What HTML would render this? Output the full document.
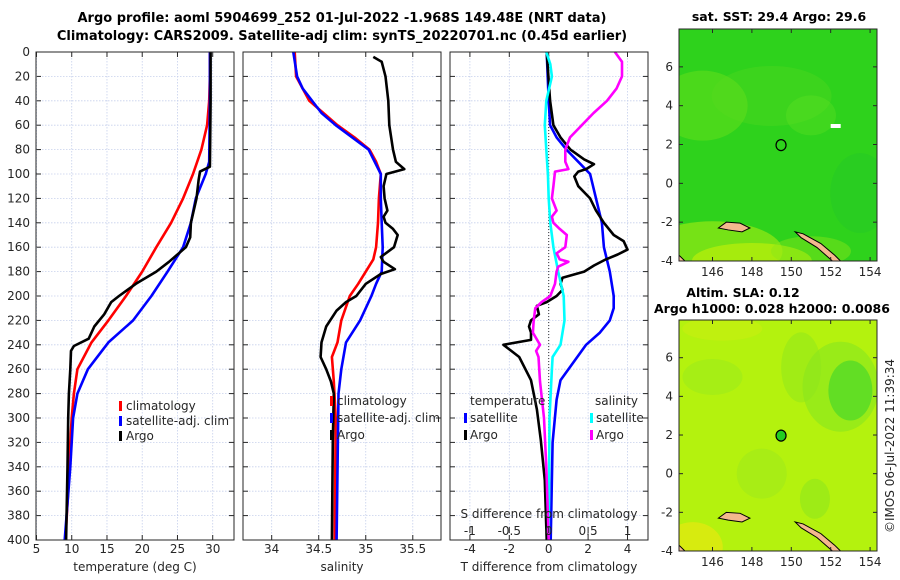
<!DOCTYPE html>
<html><head><meta charset="utf-8">
<style>
html,body{margin:0;padding:0;background:#fff;}
svg{display:block;font-family:"DejaVu Sans","Liberation Sans",sans-serif;}
</style></head>
<body>
<svg id="chart" width="900" height="580" viewBox="0 0 900 580" xmlns="http://www.w3.org/2000/svg"></svg>
<script>
// ---------- data ----------
const tClimDepth = [0,20,40,60,80,100,120,140,160,180,200,220,238,260,280,300,320,360,400];
const tClimVal   = [29.6,29.6,29.5,29.2,28.4,27.2,25.8,24.1,22.0,20.0,17.7,15.2,12.8,10.8,10.3,10.0,9.8,9.5,9.1];
const tSatDepth  = [0,40,90,100,120,140,160,180,200,220,238,260,280,300,340,400];
const tSatVal    = [29.6,29.6,29.5,29.0,27.6,26.9,25.8,23.6,21.3,18.7,15.2,12.3,10.8,10.2,9.8,9.0];
const tArgoDepth = [0,40,94,98,105,120,140,152,160,172,180,190,200,205,215,225,235,241,245,260,280,300,340,400];
const tArgoVal   = [29.7,29.7,29.6,28.2,28.0,27.7,26.9,26.8,26.2,23.8,22.0,19.1,16.7,15.6,14.6,13.2,12.4,10.3,9.9,9.8,9.6,9.5,9.4,9.2];

const sClimDepth = [0,20,30,40,50,60,70,80,90,100,120,140,160,170,180,190,200,220,238,250,270,300,400];
const sClimVal   = [34.245,34.26,34.33,34.40,34.55,34.70,34.88,35.04,35.11,35.16,35.14,35.13,35.11,35.08,35.0,34.92,34.83,34.74,34.70,34.64,34.66,34.68,34.67];
const sSatDepth  = [0,20,30,50,60,80,100,120,140,160,180,190,200,220,238,260,280,400];
const sSatVal    = [34.23,34.27,34.33,34.53,34.68,35.03,35.16,35.16,35.17,35.18,35.17,35.11,35.06,34.94,34.79,34.74,34.71,34.69];
const sArgoDepth = [4,8,20,40,60,80,90,96,100,110,120,130,135,140,145,150,160,168,172,178,182,190,200,205,212,225,238,250,260,270,280,320,400];
const sArgoVal   = [35.08,35.17,35.21,35.24,35.25,35.29,35.32,35.41,35.22,35.19,35.20,35.23,35.19,35.21,35.29,35.34,35.30,35.16,35.19,35.31,35.16,35.0,34.90,34.79,34.69,34.58,34.53,34.52,34.58,34.63,34.66,34.65,34.64];

const dTSatDepth  = [0,40,60,70,80,90,100,120,140,160,180,200,210,220,230,240,269,285,320,400];
const dTSatVal    = [-0.1,0.0,0.07,0.4,0.9,1.5,2.1,2.4,2.7,2.8,3.1,3.3,3.3,3.1,2.6,1.9,0.6,0.4,0.2,0.1];
const dTArgoDepth = [0,40,60,70,80,88,92,96,98,102,110,120,130,140,150,155,162,166,170,175,180,185,190,195,200,205,208,215,220,225,230,236,240,245,250,269,293,318,351,400];
const dTArgoVal   = [-0.1,0.07,0.24,0.6,1.1,1.8,2.3,1.9,1.5,1.3,1.5,2.1,2.4,2.8,3.3,3.8,4.0,3.5,2.9,2.3,1.8,0.7,0.6,0.7,0.4,-0.1,-0.6,-0.5,-0.9,-1.0,-0.9,-0.9,-2.3,-1.9,-1.5,-0.9,-0.6,-0.4,-0.2,-0.1];
const dSSatDepth  = [0,10,20,40,60,80,100,120,140,160,180,200,220,240,250,260,300,400];
const dSSatVal    = [-0.03,0.02,0.04,-0.03,-0.05,-0.03,-0.01,0.0,0.02,0.06,0.12,0.19,0.20,0.15,0.05,0.04,0.01,0.0];
const dSArgoDepth = [0,8,20,30,40,50,60,70,80,90,96,98,110,120,130,135,140,145,150,160,165,170,172,176,180,190,200,205,210,220,230,240,245,250,270,300,340,400];
const dSArgoVal   = [0.84,0.93,0.93,0.86,0.74,0.57,0.42,0.27,0.21,0.21,0.25,0.08,0.06,0.04,0.10,0.04,0.06,0.14,0.23,0.21,0.10,0.14,0.25,0.12,0.10,0.08,0.02,-0.09,-0.17,-0.19,-0.2,-0.11,-0.16,-0.13,-0.11,-0.06,-0.03,0.0];

const depthTicks = [0,20,40,60,80,100,120,140,160,180,200,220,240,260,280,300,320,340,360,380,400];
const tTicks = [5,10,15,20,25,30];
const sTicks = [34,34.5,35,35.5];
const dTTicks = [-4,-2,0,2,4];
const dSTicks = [-1,-0.5,0,0.5,1];
const dSTickLabels = ["-1","-0.5","0","0.5","1"];
const lonTicks = [146,148,150,152,154];
const latTicks = [-4,-2,0,2,4,6];
const argoLon = [149.48];
const argoLat = [1.97];

// ---------- helpers ----------
const NS = "http://www.w3.org/2000/svg";
const svg = document.getElementById('chart');
function mk(tag, attrs, parent){
  const e = document.createElementNS(NS, tag);
  for (const k in attrs) e.setAttribute(k, attrs[k]);
  (parent||svg).appendChild(e);
  return e;
}
const Y0 = 52, Y1 = 540;
function yScale(d){ return Y0 + d/400*(Y1-Y0); }
const panels = [
  {name:'temperature', x0:36, x1:234, min:4.93, max:33.02},
  {name:'salinity', x0:243, x1:441, min:33.695, max:35.8},
  {name:'difference', x0:450, x1:648, min:-5.01, max:5.04}
];
function xScale(p, v){ return p.x0 + (v-p.min)/(p.max-p.min)*(p.x1-p.x0); }
function xScaleS(v){ const p = panels[2]; return xScale(p, v*4); }

function drawPanel(p, ticks, labels){
  const g = mk('g', {});
  
  
  depthTicks.forEach(d=>{
    const y = yScale(d);
    const gl = mk('line', {x1:p.x0, x2:p.x1, y1:y, y2:y, stroke:'#c6d0ec', 'stroke-width':0.8, 'stroke-dasharray':'1.5,1.5'}, g);
    
    
    const t1 = mk('line', {x1:p.x0, x2:p.x0+5, y1:y, y2:y, stroke:'#262626', 'stroke-width':1}, g);
    
    
    const t2 = mk('line', {x1:p.x1-5, x2:p.x1, y1:y, y2:y, stroke:'#262626', 'stroke-width':1}, g);
    
    
  });
  ticks.forEach((v,i)=>{
    const x = xScale(p, v);
    const gl = mk('line', {x1:x, x2:x, y1:Y0, y2:Y1, stroke:'#c6d0ec', 'stroke-width':0.8, 'stroke-dasharray':'1.5,1.5'}, g);
    
    
    const tk = mk('line', {x1:x, x2:x, y1:Y1-5, y2:Y1, stroke:'#262626', 'stroke-width':1}, g);
    
    
    const tk2 = mk('line', {x1:x, x2:x, y1:Y0, y2:Y0+5, stroke:'#262626', 'stroke-width':1}, g);
    
    
    const tl = mk('text', {x:x, y:553, 'font-size':12, fill:'#262626', 'text-anchor':'middle'}, g);
    
    
    tl.textContent = labels ? labels[i] : String(v);
  });
  return g;
}
function series(p, depths, vals, color, name, sx){
  const pts = depths.map((d,i)=> (sx ? sx(vals[i]) : xScale(p, vals[i])).toFixed(1) + ',' + yScale(d).toFixed(1)).join(' ');
  const pl = mk('polyline', {points:pts, fill:'none', stroke:color, 'stroke-width':2.6, 'stroke-linejoin':'round'});
  
  
  return pl;
}
function frame(p){
  const r = mk('rect', {x:p.x0, y:Y0, width:p.x1-p.x0, height:Y1-Y0, fill:'none', stroke:'#262626', 'stroke-width':1});
  
  
}
function txt(x,y,s,opts,name){
  const a = Object.assign({x:x, y:y, 'font-size':12, fill:'#262626'}, opts||{});
  const t = mk('text', a);
  
  
  t.textContent = s;
  return t;
}
function legendMark(x,y,color){
  const m = mk('rect', {x:x, y:y-9, width:3, height:10, fill:color});
  
  
}

// ---------- titles ----------
txt(342,22,'Argo profile: aoml 5904699_252 01-Jul-2022 -1.968S 149.48E (NRT data)',{'font-size':13,'font-weight':'bold','text-anchor':'middle',fill:'#000'},'figure-title-line1');
txt(342,40,'Climatology: CARS2009. Satellite-adj clim: synTS_20220701.nc (0.45d earlier)',{'font-size':13,'font-weight':'bold','text-anchor':'middle',fill:'#000'},'figure-title-line2');

// ---------- panel 1 ----------
const P1 = panels[0], P2 = panels[1], P3 = panels[2];
drawPanel(P1, tTicks);
depthTicks.forEach(d=>{ txt(30, yScale(d)+4, String(d), {'text-anchor':'end'}, 'y-tick-label'); });
series(P1, tClimDepth, tClimVal, '#ff0000', 'temperature-climatology-line');
series(P1, tSatDepth, tSatVal, '#0000ff', 'temperature-satellite-line');
series(P1, tArgoDepth, tArgoVal, '#000000', 'temperature-argo-line');
frame(P1);
txt(135,571,'temperature (deg C)',{'text-anchor':'middle'},'x-axis-title-temperature');
legendMark(119,410,'#ff0000'); txt(126,410,'climatology',{},'legend-entry-climatology');
legendMark(119,425,'#0000ff'); txt(126,425,'satellite-adj. clim',{},'legend-entry-satellite');
legendMark(119,440,'#000000'); txt(126,440,'Argo',{},'legend-entry-argo');

// ---------- panel 2 ----------
drawPanel(P2, sTicks);
series(P2, sClimDepth, sClimVal, '#ff0000', 'salinity-climatology-line');
series(P2, sSatDepth, sSatVal, '#0000ff', 'salinity-satellite-line');
series(P2, sArgoDepth, sArgoVal, '#000000', 'salinity-argo-line');
frame(P2);
txt(342,571,'salinity',{'text-anchor':'middle'},'x-axis-title-salinity');
legendMark(330,405,'#ff0000'); txt(337,405,'climatology',{},'legend-entry-climatology');
legendMark(330,422,'#0000ff'); txt(337,422,'satellite-adj. clim',{},'legend-entry-satellite');
legendMark(330,439,'#000000'); txt(337,439,'Argo',{},'legend-entry-argo');

// ---------- panel 3 ----------
drawPanel(P3, dTTicks);
const zl = mk('line', {x1:xScale(P3,0), x2:xScale(P3,0), y1:Y0, y2:Y1, stroke:'#333', 'stroke-width':1, 'stroke-dasharray':'1,2'});


series(P3, dTSatDepth, dTSatVal, '#0000ff', 'dT-satellite-line');
series(P3, dTArgoDepth, dTArgoVal, '#000000', 'dT-argo-line');
series(P3, dSSatDepth, dSSatVal, '#00ffff', 'dS-satellite-line', xScaleS);
series(P3, dSArgoDepth, dSArgoVal, '#ff00ff', 'dS-argo-line', xScaleS);
frame(P3);
dSTicks.forEach((v,i)=>{
  const x = xScaleS(v);
  const tk = mk('line', {x1:x, x2:x, y1:527, y2:533, stroke:'#262626', 'stroke-width':1});
  
  
  txt(x, 535, dSTickLabels[i], {'text-anchor':'middle'}, 's-diff-tick-label');
});
txt(549,518,'S difference from climatology',{'text-anchor':'middle'},'s-diff-axis-title');
txt(549,571,'T difference from climatology',{'text-anchor':'middle'},'x-axis-title-t-diff');
txt(470,405,'temperature',{},'legend-title-temperature');
legendMark(464,422,'#0000ff'); txt(470,422,'satellite',{},'legend-entry-t-satellite');
legendMark(464,439,'#000000'); txt(470,439,'Argo',{},'legend-entry-t-argo');
txt(595,405,'salinity',{},'legend-title-salinity');
legendMark(590,422,'#00ffff'); txt(596,422,'satellite',{},'legend-entry-s-satellite');
legendMark(590,439,'#ff00ff'); txt(596,439,'Argo',{},'legend-entry-s-argo');

// ---------- maps ----------
const MX0 = 679, MX1 = 877;
function lonX(l){ return MX0 + (l-144.3)*19.7; }
function drawMap(name, top, bottom, latTopVal, base, blobs, dotFill){
  const sc = (bottom-top)/(latTopVal+4);
  const latY = l => top + (latTopVal-l)*sc;
  const g = mk('g', {});
  
  
  const clipId = name + '-clip';
  const cp = mk('clipPath', {id:clipId}, g);
  mk('rect', {x:MX0, y:top, width:MX1-MX0, height:bottom-top}, cp);
  const inner = mk('g', {'clip-path':'url(#'+clipId+')'}, g);
  mk('rect', {x:MX0, y:top, width:MX1-MX0, height:bottom-top, fill:base}, inner);
  blobs.forEach(b=>{
    const e = mk('ellipse', {cx:lonX(b[0]), cy:latY(b[1]), rx:b[2], ry:b[3], fill:b[4], opacity:b[5]}, inner);
    
    
  });
  const isl1 = mk('path', {d:`M${lonX(146.3)},${latY(-2.3)} L${lonX(146.7)},${latY(-2.0)} L${lonX(147.4)},${latY(-2.05)} L${lonX(147.9)},${latY(-2.3)} L${lonX(147.5)},${latY(-2.5)} L${lonX(146.8)},${latY(-2.4)} Z`, fill:'#f4b88e', stroke:'#000', 'stroke-width':1}, inner);
  
  
  const isl2 = mk('path', {d:`M${lonX(150.2)},${latY(-2.5)} L${lonX(150.6)},${latY(-2.6)} L${lonX(151.5)},${latY(-3.1)} L${lonX(152.2)},${latY(-3.7)} L${lonX(152.6)},${latY(-4.1)} L${lonX(152.2)},${latY(-4.1)} L${lonX(151.3)},${latY(-3.3)} L${lonX(150.5)},${latY(-2.8)} Z`, fill:'#f4b88e', stroke:'#000', 'stroke-width':1}, inner);
  
  
  const isl3 = mk('path', {d:`M${lonX(144.3)},${latY(-3.7)} L${lonX(144.7)},${latY(-4.1)} L${lonX(144.3)},${latY(-4.1)} Z`, fill:'#f4b88e', stroke:'#000', 'stroke-width':1}, inner);
  
  
  argoLon.forEach((lo,i)=>{
    const c = mk('ellipse', {cx:lonX(lo), cy:latY(argoLat[i]), rx:5, ry:5.5, fill:dotFill, stroke:'#000', 'stroke-width':1.2}, g);
    
    
  });
  const fr = mk('rect', {x:MX0, y:top, width:MX1-MX0, height:bottom-top, fill:'none', stroke:'#262626', 'stroke-width':1}, g);
  
  
  lonTicks.forEach(l=>{
    const x = lonX(l);
    mk('line', {x1:x, x2:x, y1:bottom-4, y2:bottom, stroke:'#262626'}, g);
    mk('line', {x1:x, x2:x, y1:top, y2:top+4, stroke:'#262626'}, g);
    txt(x, bottom+15, String(l), {'text-anchor':'middle'}, 'map-lon-tick-label');
  });
  latTicks.forEach(l=>{
    const y = latY(l);
    mk('line', {x1:MX0, x2:MX0+4, y1:y, y2:y, stroke:'#262626'}, g);
    mk('line', {x1:MX1-4, x2:MX1, y1:y, y2:y, stroke:'#262626'}, g);
    txt(MX0-6, y+4, String(l), {'text-anchor':'end'}, 'map-lat-tick-label');
  });
}
drawMap('sst-map', 29, 261, 7.95, '#2ed21c', [
  [145.5,4,45,35,'#6fe21a',0.45],
  [146,-3.5,70,30,'#a6ec12',0.6],
  [148,-4,60,18,'#c6f208',0.6],
  [149,4.5,60,30,'#5cdc22',0.3],
  [151,3.5,25,20,'#6ae424',0.3],
  [153.5,-0.5,30,40,'#1fc62a',0.35],
  [151,-3.5,40,15,'#8ae618',0.45]
], 'none');
const wp = mk('rect', {x:lonX(152.0), y:124, width:10, height:4, fill:'#fff'});


drawMap('sla-map', 320, 551, 7.95, '#b4f20e', [
  [153,4.3,22,30,'#34d42a',0.85],
  [152.5,4.5,38,45,'#7ee422',0.5],
  [150.5,5.5,20,35,'#8ee61c',0.5],
  [146,5,30,18,'#94e820',0.45],
  [148.5,0,25,25,'#98e61e',0.45],
  [151.2,-1.3,15,20,'#88e41e',0.5],
  [145,-3.8,30,25,'#e0e810',0.8],
  [146.5,7.5,40,12,'#ccee10',0.5]
], '#22cc22');
txt(779,21,'sat. SST: 29.4  Argo: 29.6',{'font-size':12.5,'font-weight':'bold','text-anchor':'middle',fill:'#000'},'sst-map-title');
txt(743,297,'Altim. SLA: 0.12',{'font-size':12.5,'font-weight':'bold','text-anchor':'middle',fill:'#000'},'sla-map-title');
txt(654,313,'Argo h1000: 0.028 h2000: 0.0086',{'font-size':12.5,'font-weight':'bold',fill:'#000'},'sla-map-subtitle');
txt(0,0,'©IMOS 06-Jul-2022 11:39:34',{'text-anchor':'middle',transform:'translate(894,446) rotate(-90)'},'timestamp-credit');
</script>
</body></html>
